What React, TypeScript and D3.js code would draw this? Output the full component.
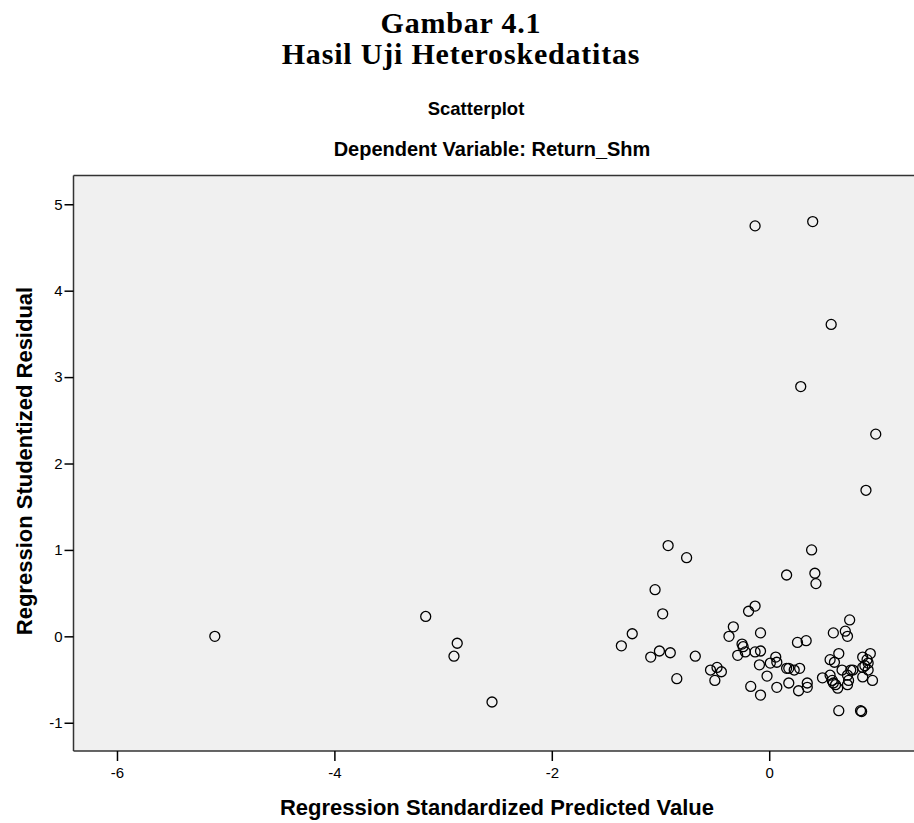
import { useEffect, useRef } from 'react'
import * as d3 from 'd3'

// Regression Standardized Predicted Value (x) vs Studentized Residual (y)
const predicted = [
  -5.1, -3.16, -2.87, -2.9, -2.55, -0.13, 0.4, 0.57, 0.29, 0.98,
  0.89, -0.93, -0.76, 0.39, 0.16, 0.42, 0.43, -1.05, -0.98, -1.26,
  -1.36, -1.09, -1.01, -0.91, -0.68, -0.85, -0.54, -0.48, -0.44, -0.5,
  -0.19, -0.13, -0.33, -0.37, -0.25, -0.24, -0.29, -0.22, -0.13, -0.08,
  -0.08, -0.09, -0.17, -0.08, -0.02, 0.01, 0.06, 0.07, 0.07, 0.16,
  0.18, 0.23, 0.28, 0.18, 0.27, 0.35, 0.35, 0.26, 0.34, 0.49,
  0.56, 0.6, 0.64, 0.59, 0.72, 0.7, 0.74, 0.56, 0.58, 0.61,
  0.63, 0.67, 0.72, 0.73, 0.72, 0.75, 0.77, 0.64, 0.84, 0.85,
  0.86, 0.93, 0.9, 0.88, 0.91, 0.86, 0.91, 0.86, 0.95, 0.59,
]
const residual = [
  0.0, 0.23, -0.08, -0.23, -0.76, 4.75, 4.8, 3.61, 2.89, 2.34,
  1.69, 1.05, 0.91, 1.0, 0.71, 0.73, 0.61, 0.54, 0.26, 0.03,
  -0.11, -0.24, -0.17, -0.19, -0.23, -0.49, -0.39, -0.36, -0.41, -0.51,
  0.29, 0.35, 0.11, 0.0, -0.09, -0.12, -0.22, -0.18, -0.18, -0.17,
  0.04, -0.33, -0.58, -0.68, -0.46, -0.31, -0.24, -0.3, -0.59, -0.37,
  -0.37, -0.39, -0.37, -0.54, -0.63, -0.54, -0.59, -0.07, -0.05, -0.48,
  -0.27, -0.3, -0.2, 0.04, 0.0, 0.06, 0.19, -0.45, -0.51, -0.56,
  -0.6, -0.39, -0.45, -0.51, -0.56, -0.39, -0.39, -0.86, -0.86, -0.87,
  -0.24, -0.2, -0.27, -0.34, -0.31, -0.36, -0.39, -0.47, -0.51, -0.54,
]
const xTicks = [-6, -4, -2, 0]
const yTicks = [-1, 0, 1, 2, 3, 4, 5]

const W = 914
const H = 823
const sans = 'Arial, "Liberation Sans", sans-serif'
const serif = '"Times New Roman", "Liberation Serif", serif'

export default function App() {
  const ref = useRef<SVGSVGElement | null>(null)

  useEffect(() => {
    const el = ref.current
    if (!el) return
    const svg = d3.select(el)
    svg.selectAll('*').remove()

    const left = 73.5
    const top = 175.5
    const bottom = 751
    const right = 921.4

    const x = d3.scaleLinear().domain([-6.4, 1.4]).range([left, right])
    const y = d3.scaleLinear().domain([-1.327, 5.333]).range([bottom, top])

    // titles
    const t = svg.append('g').attr('text-anchor', 'middle').attr('fill', '#000')
    t.append('text').attr('x', 461).attr('y', 33).attr('font-family', serif)
      .attr('font-weight', 'bold').attr('font-size', 30).attr('letter-spacing', 0.8)
      .text('Gambar 4.1')
    t.append('text').attr('x', 461).attr('y', 64).attr('font-family', serif)
      .attr('font-weight', 'bold').attr('font-size', 30).attr('letter-spacing', 0.8)
      .text('Hasil Uji Heteroskedatitas')
    t.append('text').attr('x', 476).attr('y', 115).attr('font-family', sans)
      .attr('font-weight', 'bold').attr('font-size', 18.5).text('Scatterplot')
    t.append('text').attr('x', 492).attr('y', 156).attr('font-family', sans)
      .attr('font-weight', 'bold').attr('font-size', 20).text('Dependent Variable: Return_Shm')

    // plot background
    svg.append('rect')
      .attr('x', left).attr('y', top)
      .attr('width', right - left).attr('height', bottom - top)
      .attr('fill', '#f0f0f0')

    // points
    svg.append('g')
      .selectAll('circle')
      .data(d3.range(predicted.length))
      .join('circle')
      .attr('cx', i => x(predicted[i]))
      .attr('cy', i => y(residual[i]))
      .attr('r', 5)
      .attr('fill', 'none')
      .attr('stroke', '#000')
      .attr('stroke-width', 1.3)

    // frame
    const frame = svg.append('g').attr('stroke', '#333').attr('stroke-width', 1.5)
    frame.append('line').attr('x1', left).attr('x2', W).attr('y1', top).attr('y2', top)
    frame.append('line').attr('x1', left).attr('x2', W).attr('y1', bottom).attr('y2', bottom)
    frame.append('line').attr('x1', left).attr('x2', left).attr('y1', top).attr('y2', bottom)

    // axes
    svg.append('g')
      .attr('transform', `translate(${left},0)`)
      .call(d3.axisLeft(y).tickValues(yTicks).tickFormat(d => String(d)).tickSize(9).tickPadding(2))
      .call(g => g.select('.domain').remove())
      .call(g => g.selectAll('line').attr('stroke', '#000').attr('stroke-width', 1.5))
      .call(g => g.selectAll('text').attr('font-family', sans).attr('font-size', 15).attr('fill', '#000'))

    svg.append('g')
      .attr('transform', `translate(0,${bottom})`)
      .call(d3.axisBottom(x).tickValues(xTicks).tickFormat(d => String(d)).tickSize(10).tickPadding(6))
      .call(g => g.select('.domain').remove())
      .call(g => g.selectAll('line').attr('stroke', '#000').attr('stroke-width', 1.5))
      .call(g => g.selectAll('text').attr('font-family', sans).attr('font-size', 15).attr('fill', '#000'))

    // axis titles
    svg.append('text')
      .attr('x', 497).attr('y', 815)
      .attr('text-anchor', 'middle').attr('font-family', sans)
      .attr('font-weight', 'bold').attr('font-size', 22)
      .text('Regression Standardized Predicted Value')

    svg.append('text')
      .attr('transform', 'translate(32,461) rotate(-90)')
      .attr('text-anchor', 'middle').attr('font-family', sans)
      .attr('font-weight', 'bold').attr('font-size', 22)
      .text('Regression Studentized Residual')
  }, [])

  return (
    <svg
      ref={ref}
      width={W}
      height={H}
      style={{ position: 'absolute', left: 0, top: 0, background: '#fff' }}
    />
  )
}
